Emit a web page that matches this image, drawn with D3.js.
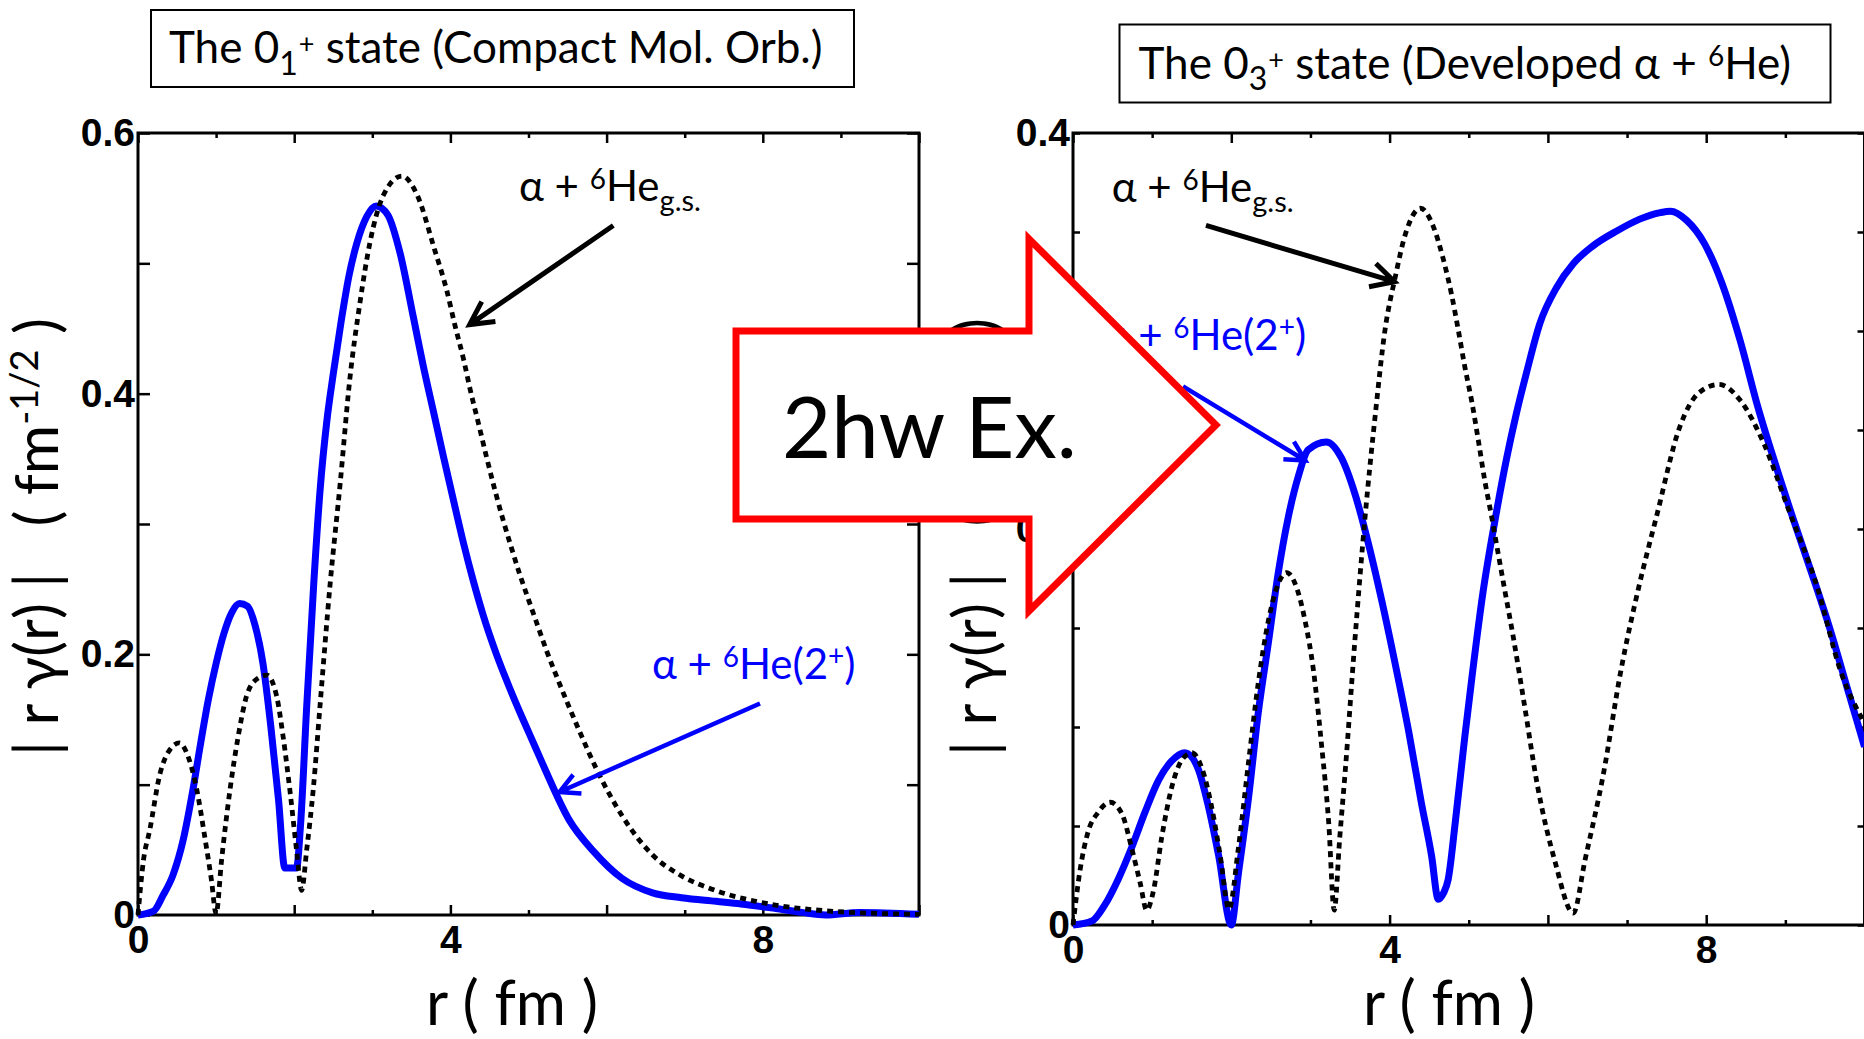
<!DOCTYPE html>
<html>
<head>
<meta charset="utf-8">
<script src="https://cdn.jsdelivr.net/npm/d3@7"></script>
<style>
  body { margin: 0; background: #fff; }
  svg { display: block; }
</style>
</head>
<body>
<svg id="chart" width="1864" height="1039"></svg>
<script>

// 0_1+ state (compact molecular orbit), |r y(r)| in fm^-1/2
var compactGsR = [0, 0.07, 0.15, 0.28, 0.41, 0.53, 0.645, 0.75, 0.86, 0.94, 1.0, 1.07, 1.18, 1.28, 1.39, 1.52, 1.65, 1.775, 1.86, 1.95,
  2.03, 2.095, 2.16, 2.245, 2.33, 2.46, 2.59, 2.71, 2.84, 2.97, 3.14, 3.38, 3.57, 3.8, 3.95, 4.06, 4.17, 4.25, 4.36, 4.46,
  4.57, 4.68, 4.78, 4.89, 5.0, 5.1, 5.23, 5.36, 5.51, 5.66, 5.87, 6.2, 6.59, 6.96, 7.34, 8.1, 8.86, 10];
var compactGsAmp = [0, 0.042, 0.065, 0.108, 0.127, 0.132, 0.121, 0.097, 0.058, 0.027, 0.001, 0.042, 0.097, 0.136, 0.168, 0.181, 0.184, 0.168, 0.136, 0.093,
  0.05, 0.019, 0.05, 0.097, 0.16, 0.254, 0.332, 0.41, 0.469, 0.516, 0.552, 0.567, 0.553, 0.51, 0.48, 0.452, 0.426, 0.404, 0.377, 0.352,
  0.326, 0.302, 0.282, 0.261, 0.242, 0.225, 0.203, 0.183, 0.161, 0.14, 0.112, 0.076, 0.046, 0.03, 0.02, 0.0083, 0.003, 0.0005];

var compact2pR = [0, 0.2, 0.32, 0.45, 0.58, 0.7, 0.8, 0.9, 1.0, 1.1, 1.2, 1.3, 1.4, 1.5, 1.6, 1.7, 1.8, 1.88, 2.03, 2.08,
  2.16, 2.25, 2.33, 2.42, 2.5, 2.6, 2.7, 2.8, 2.93, 3.05, 3.2, 3.355, 3.525, 3.65, 3.78, 3.91, 4.04, 4.165, 4.29, 4.42,
  4.59, 4.76, 4.93, 5.1, 5.21, 5.52, 5.83, 6.2, 6.59, 6.96, 7.4, 7.72, 8.1, 8.5, 8.8, 9.24, 10];
var compact2pAmp = [0, 0.003, 0.015, 0.031, 0.058, 0.095, 0.131, 0.165, 0.193, 0.216, 0.232, 0.239, 0.237, 0.222, 0.193, 0.145, 0.088, 0.036, 0.036, 0.068,
  0.16, 0.254, 0.325, 0.38, 0.415, 0.455, 0.49, 0.515, 0.536, 0.544, 0.537, 0.508, 0.459, 0.422, 0.387, 0.352, 0.318, 0.286, 0.257, 0.23,
  0.2, 0.174, 0.15, 0.127, 0.112, 0.073, 0.049, 0.028, 0.017, 0.0133, 0.0105, 0.0085, 0.0055, 0.002, 0, 0.002, 0.0005];

// 0_3+ state (developed alpha + 6He)
var developedGsR = [0, 0.09, 0.19, 0.32, 0.47, 0.62, 0.74, 0.85, 0.93, 1.02, 1.12, 1.25, 1.37, 1.5, 1.63, 1.75, 1.86, 1.97, 2.09, 2.22,
  2.34, 2.47, 2.59, 2.7, 2.8, 2.93, 3.04, 3.14, 3.23, 3.3, 3.37, 3.44, 3.56, 3.69, 3.82, 3.94, 4.07, 4.2, 4.39, 4.55,
  4.68, 4.78, 4.87, 4.95, 5.04, 5.12, 5.2, 5.29, 5.37, 5.46, 5.56, 5.7, 5.87, 6.09, 6.32, 6.47, 6.7, 6.92, 7.15, 7.37,
  7.67, 7.9, 8.16, 8.43, 8.73, 9.03, 9.4, 9.7, 10];
var developedGsAmp = [0, 0.028, 0.047, 0.057, 0.062, 0.056, 0.039, 0.021, 0.0075, 0.018, 0.044, 0.07, 0.083, 0.087, 0.079, 0.06, 0.035, 0.008, 0.039, 0.083,
  0.122, 0.154, 0.172, 0.178, 0.173, 0.154, 0.128, 0.091, 0.052, 0.0075, 0.044, 0.078, 0.143, 0.206, 0.258, 0.30, 0.327, 0.349, 0.362, 0.353,
  0.336, 0.319, 0.30, 0.282, 0.264, 0.245, 0.225, 0.206, 0.188, 0.168, 0.146, 0.112, 0.07, 0.032, 0.006, 0.033, 0.076, 0.128, 0.171, 0.206,
  0.252, 0.2685, 0.273, 0.265, 0.243, 0.211, 0.171, 0.128, 0.102];

var developed2pR = [0, 0.24, 0.4, 0.57, 0.74, 0.91, 1.08, 1.25, 1.415, 1.58, 1.71, 1.84, 2.0, 2.09, 2.22, 2.34, 2.47, 2.59, 2.72, 2.85,
  2.97, 3.2, 3.39, 3.56, 3.73, 3.9, 4.07, 4.24, 4.4, 4.53, 4.615, 4.68, 4.74, 4.83, 4.95, 5.04, 5.18, 5.33, 5.48, 5.6,
  5.73, 5.9, 6.11, 6.32, 6.57, 6.87, 7.16, 7.42, 7.55, 7.75, 7.98, 8.2, 8.43, 8.65, 8.88, 9.1, 9.33, 9.56, 9.78, 10];
var developed2pAmp = [0, 0.002, 0.01, 0.023, 0.039, 0.057, 0.073, 0.083, 0.087, 0.079, 0.06, 0.035, 0, 0.026, 0.065, 0.107, 0.143, 0.177, 0.206, 0.227,
  0.24, 0.244, 0.236, 0.218, 0.193, 0.164, 0.132, 0.098, 0.062, 0.035, 0.013, 0.016, 0.023, 0.052, 0.095, 0.125, 0.168, 0.204, 0.236, 0.258,
  0.279, 0.304, 0.322, 0.334, 0.343, 0.3505, 0.3565, 0.3598, 0.3605, 0.356, 0.344, 0.324, 0.295, 0.262, 0.232, 0.205, 0.178, 0.15, 0.12, 0.09];

var rTicks = [0, 1, 2, 3, 4, 5, 6, 7, 8, 9, 10];
var rTickLabels = [0, 4, 8];
var compactAmpTickLabels = [0, 0.2, 0.4, 0.6];
var developedAmpTickLabels = [0, 0.2, 0.4];

var CAL = 'Lato, "Open Sans", "Noto Sans", sans-serif';
var ARIAL = '"Liberation Sans", Arial, sans-serif';
var BLUE = '#0000ff';

var svg = d3.select('#chart');

// text with sub/superscripts, shift = offset from the baseline (down is +)
function richText(g, x, y, parts, size, color) {
  var t = g.append('text')
    .attr('x', x)
    .attr('y', y)
    .attr('fill', color || '#000')
    .attr('xml:space', 'preserve')
    .style('white-space', 'pre')
    .style('font-family', CAL)
    .style('font-size', size + 'px');
  var cur = 0;
  parts.forEach(function(p) {
    var s = p.shift || 0;
    t.append('tspan')
      .attr('dy', s - cur)
      .attr('dx', p.dx || 0)
      .style('font-size', (p.size || size) + 'px')
      .text(p.t);
    cur = s;
  });
  return t;
}

function arrow(g, x0, y0, x1, y1, color, width, head) {
  var a = Math.atan2(y1 - y0, x1 - x0);
  var spread = Math.PI / 6.5;
  var p = d3.path();
  p.moveTo(x0, y0);
  p.lineTo(x1, y1);
  p.moveTo(x1 - head * Math.cos(a - spread), y1 - head * Math.sin(a - spread));
  p.lineTo(x1, y1);
  p.lineTo(x1 - head * Math.cos(a + spread), y1 - head * Math.sin(a + spread));
  g.append('path')
    .attr('d', p.toString())
    .attr('fill', 'none')
    .attr('stroke', color)
    .attr('stroke-width', width)
    .attr('stroke-linejoin', 'miter');
}

var panels = [
  {
    left: 138, right: 919, top: 133, bottom: 915,
    yMax: 0.6, yStep: 0.1, yTickLen: 12, yLabels: compactAmpTickLabels,
    gs: [compactGsR, compactGsAmp], ex: [compact2pR, compact2pAmp],
    gsLabel: [4.878, 0.548], gsArrow: [6.086, 0.529, 4.246, 0.453],
    exLabel: [6.58, 0.181], exArrow: [7.964, 0.1623, 5.397, 0.0944],
    xLabelX: 512, yLabelX: 58
  },
  {
    left: 1073, right: 1864.5, top: 133, bottom: 925,
    yMax: 0.4, yStep: 0.05, yTickLen: 7, yLabels: developedAmpTickLabels,
    gs: [developedGsR, developedGsAmp], ex: [developed2pR, developed2pAmp],
    gsLabel: [0.489, 0.3653], gsArrow: [1.68, 0.3533, 4.062, 0.3249],
    exLabel: [0.373, 0.2904], exArrow: [1.39, 0.272, 2.935, 0.2346],
    xLabelX: 1449, yLabelX: 996
  }
];

function drawPanel(p) {
  var x = d3.scaleLinear().domain([0, 10]).range([p.left, p.right]);
  var y = d3.scaleLinear().domain([0, p.yMax]).range([p.bottom, p.top]);
  var g = svg.append('g');

  var yTicks = d3.range(0, p.yMax + 1e-9, p.yStep);
  var fmtY = function(v) {
    var hit = p.yLabels.some(function(l) { return Math.abs(l - v) < 1e-9; });
    if (!hit) return '';
    return v === 0 ? '0' : v.toFixed(1);
  };
  var odd = rTicks.filter(function(d) { return d % 2 === 1; });
  var even = rTicks.filter(function(d) { return d % 2 === 0; });

  // ticks point inward on all four sides
  g.append('g').attr('transform', 'translate(0,' + p.bottom + ')')
    .call(d3.axisBottom(x).tickValues(odd).tickSize(-5).tickFormat(''));
  g.append('g').attr('transform', 'translate(0,' + p.bottom + ')')
    .call(d3.axisBottom(x).tickValues(even).tickSize(-10).tickPadding(10)
      .tickFormat(function(d) { return rTickLabels.indexOf(d) >= 0 ? d : ''; }));
  g.append('g').attr('transform', 'translate(0,' + p.top + ')')
    .call(d3.axisTop(x).tickValues(odd).tickSize(-5).tickFormat(''));
  g.append('g').attr('transform', 'translate(0,' + p.top + ')')
    .call(d3.axisTop(x).tickValues(even).tickSize(-10).tickFormat(''));
  g.append('g').attr('transform', 'translate(' + p.left + ',0)')
    .call(d3.axisLeft(y).tickValues(yTicks).tickSize(-p.yTickLen).tickPadding(3).tickFormat(fmtY));
  g.append('g').attr('transform', 'translate(' + p.right + ',0)')
    .call(d3.axisRight(y).tickValues(yTicks).tickSize(-p.yTickLen).tickFormat(''));

  g.selectAll('.domain').remove();
  g.selectAll('.tick line').attr('stroke', '#000').attr('stroke-width', 2.5);
  g.selectAll('.tick text')
    .attr('fill', '#000')
    .style('font-family', ARIAL)
    .style('font-weight', 'bold')
    .style('font-size', '39px');

  g.append('rect')
    .attr('x', p.left)
    .attr('y', p.top)
    .attr('width', p.right - p.left)
    .attr('height', p.bottom - p.top)
    .attr('fill', 'none')
    .attr('stroke', '#000')
    .attr('stroke-width', 3);

  var line = d3.line()
    .x(function(d) { return x(d[0]); })
    .y(function(d) { return y(d[1]); })
    .curve(d3.curveMonotoneX);

  g.append('path')
    .datum(d3.zip(p.ex[0], p.ex[1]))
    .attr('d', line)
    .attr('fill', 'none')
    .attr('stroke', BLUE)
    .attr('stroke-width', 7)
    .attr('stroke-linejoin', 'round');

  g.append('path')
    .datum(d3.zip(p.gs[0], p.gs[1]))
    .attr('d', line)
    .attr('fill', 'none')
    .attr('stroke', '#000')
    .attr('stroke-width', 4.8)
    .attr('stroke-dasharray', '6 5');

  // annotations
  richText(g, x(p.gsLabel[0]), y(p.gsLabel[1]), [
    { t: '\u03b1 + ' },
    { t: '6', size: 28, shift: -12 },
    { t: 'He', shift: 0 },
    { t: 'g.s.', size: 29, shift: 10 }
  ], 42);
  arrow(g, x(p.gsArrow[0]), y(p.gsArrow[1]), x(p.gsArrow[2]), y(p.gsArrow[3]), '#000', 5, 26);

  richText(g, x(p.exLabel[0]), y(p.exLabel[1]), [
    { t: '\u03b1 + ' },
    { t: '6', size: 28, shift: -12 },
    { t: 'He(2', shift: 0 },
    { t: '+', size: 28, shift: -13 },
    { t: ')', shift: 0 }
  ], 42, BLUE);
  arrow(g, x(p.exArrow[0]), y(p.exArrow[1]), x(p.exArrow[2]), y(p.exArrow[3]), BLUE, 4.5, 22);

  // axis titles
  g.append('text')
    .attr('x', p.xLabelX)
    .attr('y', 1025)
    .attr('text-anchor', 'middle')
    .attr('xml:space', 'preserve')
    .style('white-space', 'pre')
    .style('font-family', CAL)
    .style('font-size', '61px')
    .text('r ( fm )');

  var yl = richText(g, 0, 0, [
    { t: '| r \u03b3(r) |   ( fm' },
    { t: '-1/2', size: 38, shift: -20 },
    { t: ' )', shift: 0 }
  ], 60);
  yl.attr('text-anchor', 'middle')
    .attr('transform', 'translate(' + p.yLabelX + ',537) rotate(-90)');
}

// title boxes
function titleBox(x, y, w, h, tx, ty, parts) {
  svg.append('rect')
    .attr('x', x).attr('y', y).attr('width', w).attr('height', h)
    .attr('fill', '#fff').attr('stroke', '#000').attr('stroke-width', 2);
  richText(svg, tx, ty, parts, 44);
}

titleBox(151, 10, 703, 77, 169, 63, [
  { t: 'The 0' },
  { t: '1', size: 32, shift: 12 },
  { t: '+', size: 27, shift: -10, dx: 1 },
  { t: ' state (Compact Mol. Orb.)', shift: 0 }
]);
titleBox(1119.5, 24.5, 711, 78, 1138.5, 79, [
  { t: 'The 0' },
  { t: '3', size: 32, shift: 11 },
  { t: '+', size: 27, shift: -10, dx: 1 },
  { t: ' state (Developed \u03b1 + ', shift: 0 },
  { t: '6', size: 28, shift: -13 },
  { t: 'He)', shift: 0 }
]);

panels.forEach(drawPanel);

// big block arrow between the panels
var blockArrow = [[736, 331], [1029, 331], [1029, 239], [1216, 425], [1029, 611], [1029, 519], [736, 519]];
svg.append('path')
  .attr('d', d3.line()(blockArrow) + 'Z')
  .attr('fill', '#fff')
  .attr('stroke', '#ff0000')
  .attr('stroke-width', 7)
  .attr('stroke-linejoin', 'miter');

svg.append('text')
  .attr('x', 782)
  .attr('y', 458)
  .style('font-family', CAL)
  .style('font-size', '85px')
  .text('2hw Ex.');

</script>
</body>
</html>
